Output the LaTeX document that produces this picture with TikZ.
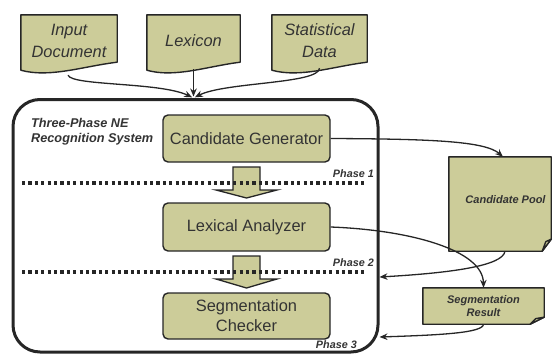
\documentclass[tikz,border=0pt]{standalone}
\usepackage{fontspec}
\setmainfont{Liberation Sans}
\usetikzlibrary{arrows.meta,calc,backgrounds}
\definecolor{khaki}{RGB}{204,204,153}
\definecolor{ink}{RGB}{38,38,38}
\definecolor{txt}{RGB}{51,51,51}

\tikzset{
  shapeline/.style={draw=ink, fill=khaki, line width=1.4pt, line join=round},
  docbox/.style={inner sep=0pt, minimum width=#1, minimum height=51pt, align=center,
    text=txt, font=\fontsize{16.4pt}{22pt}\selectfont\itshape},
  stagebox/.style={draw=ink, fill=khaki, line width=1.4pt, rounded corners=5pt,
    minimum width=167pt, minimum height=47pt, align=center, inner sep=0pt,
    text=txt, font=\fontsize{16.4pt}{20pt}\selectfont},
  notebox/.style={inner sep=0pt, minimum width=#1},
  smalllbl/.style={inner sep=0pt, align=center, text=txt,
    font=\fontsize{11pt}{13pt}\selectfont\bfseries\itshape},
  phaselbl/.style={inner sep=0pt, text=txt,
    font=\fontsize{10.8pt}{13pt}\selectfont\bfseries\itshape},
  sysbox/.style={draw=ink, line width=3pt, rounded corners=27pt,
    minimum width=365pt, minimum height=252.5pt, inner sep=0pt},
  conn/.style={draw=ink, line width=1.3pt, -{Stealth[length=8pt,width=6.5pt]}},
  phaseline/.style={draw=ink, line width=3.2pt, dash pattern=on 3.2pt off 3.2pt},
  blockarrow/.style={draw=ink, fill=khaki, line width=1.3pt, line join=miter},
}

% document symbol with a wavy lower edge
\newcommand\drawdocshape[1]{%
  \filldraw[shapeline] (#1.north west) -- (#1.north east) -- ([yshift=4pt]#1.south east)
    .. controls ($(#1.south west)!0.65!(#1.south east)$)
       and ($(#1.south west)!0.3!(#1.south east)+(0,-12pt)$)
    .. ([yshift=-4pt]#1.south west) -- cycle;}

% note symbol with a folded lower right corner
\newcommand\drawnoteshape[3]{%
  \filldraw[shapeline] (#1.north west) -- (#1.north east) -- ([yshift=#3]#1.south east)
    -- ([xshift=-#2]#1.south east) -- (#1.south west) -- cycle;
  \filldraw[shapeline] ([yshift=#3]#1.south east)
    -- ($(#1.south east)+(-0.6*#2,0.8*#3)$) -- ([xshift=-#2]#1.south east) -- cycle;}

\begin{document}
\begin{tikzpicture}[x=1pt,y=-1pt]
\useasboundingbox (0,0) rectangle (552,354);

% input sources
\node[docbox=96pt]  (indoc) at (69,40.5)  {Input\\Document};
\node[docbox=93pt]  (lex)   at (193.5,40.5) {Lexicon};
\node[docbox=95pt]  (stat)  at (319.5,40.5) {Statistical\\Data};

% outer system frame
\node[sysbox] (sys) at (195.5,225.75) {};
\node[inner sep=0pt, anchor=north west, align=left, text=txt,
      font=\fontsize{12.7pt}{15.5pt}\selectfont\bfseries\itshape] (title) at (31,118)
      {Three-Phase NE\\Recognition System};

% processing stages
\node[stagebox] (cg) at (246.5,138.5) {Candidate Generator};
\node[stagebox, minimum height=48pt] (la) at (246.5,227) {Lexical Analyzer};
\node[stagebox, minimum height=46pt] (sc) at (246.5,316) {Segmentation\\Checker};

% intermediate stores
\node[notebox=102pt, minimum height=94pt] (pool) at (500,204) {};
\node[smalllbl] (pooltxt) at (505.5,200) {Candidate Pool};
\node[notebox=121pt, minimum height=36pt, smalllbl] (segres) at (483.5,306) {Segmentation\\Result};

\begin{pgfonlayer}{background}
  \drawdocshape{indoc}
  \drawdocshape{lex}
  \drawdocshape{stat}
  \drawnoteshape{pool}{9pt}{12pt}
  \drawnoteshape{segres}{14pt}{7pt}
\end{pgfonlayer}

% block arrows between stages
\filldraw[blockarrow] (233,167) -- (260,167) -- (260,190) -- (277,190) -- (246.5,198)
  -- (216,190) -- (233,190) -- cycle;
\filldraw[blockarrow] (233,256) -- (260,256) -- (260,279) -- (277,279) -- (246.5,288)
  -- (216,279) -- (233,279) -- cycle;

% phase separators
\draw[phaseline] (22,183) -- (365,183);
\draw[phaseline] (22,272) -- (365,272);
\node[phaselbl, anchor=base east] (ph1) at (374,177) {Phase 1};
\node[phaselbl, anchor=base east] (ph2) at (374,266) {Phase 2};
\node[phaselbl, anchor=base east] (ph3) at (357,348) {Phase 3};

% inputs into the system
\coordinate (hub) at (lex.south |- sys.north);
\draw[conn, shorten >=1.5pt] ([xshift=-1pt,yshift=-9pt]indoc.south)
  .. controls (72,86) and (160,82) .. (hub);
\draw[conn, shorten >=1.5pt] ([yshift=-3pt]lex.south) -- (hub);
\draw[conn, shorten >=1.5pt] ([yshift=-2pt]stat.south)
  .. controls (319,84) and (225,82) .. (hub);

% data flow to and from the stores
\draw[conn] (cg.east) .. controls (430,139) and (485,141) .. ([xshift=3pt]pool.north);
\draw[conn] ([xshift=5pt]pool.south) .. controls (503,266) and (450,273) .. (sys.east |- 0,277);
\draw[conn] (la.east) .. controls (410,230) and (483,250) .. (segres.north);
\draw[conn] (segres.south) .. controls (483,333) and (440,335) .. (sys.east |- 0,337);
\end{tikzpicture}
\end{document}
